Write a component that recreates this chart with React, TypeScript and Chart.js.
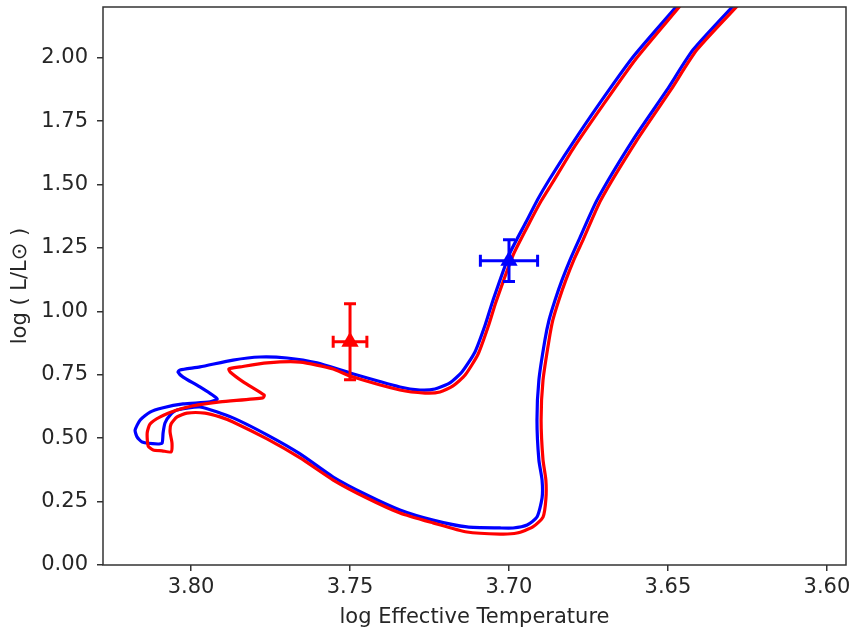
import React, { useEffect, useRef } from "react";
import { Chart, registerables } from "chart.js";

Chart.register(...registerables);

// ---- Data ----
const BLUE_TEFF = [
  3.6283, 3.6421, 3.6503, 3.661, 3.6723, 3.678, 3.6808, 3.6833, 3.6855, 3.6874,
  3.6887, 3.6906, 3.6912, 3.6906, 3.6896, 3.6896, 3.6912, 3.6943, 3.6987, 3.7028,
  3.7132, 3.7239, 3.7343, 3.7447, 3.7553, 3.7657, 3.7761, 3.7868, 3.7972, 3.8044,
  3.8066, 3.8082, 3.8088, 3.8091, 3.8104, 3.8154, 3.817, 3.8176, 3.816, 3.8129,
  3.8091, 3.8025, 3.794, 3.7918, 3.7972, 3.8025, 3.8041, 3.8035, 3.7972, 3.7868,
  3.7783, 3.7698, 3.7604, 3.75, 3.7343, 3.728, 3.7233, 3.7186, 3.7148, 3.7107,
  3.7075, 3.705, 3.6997, 3.6943, 3.6909, 3.6874, 3.6808, 3.6714, 3.661, 3.6472,
  3.6459,
];
const BLUE_LOGL = [
  2.22, 2.031, 1.873, 1.676, 1.439, 1.282, 1.203, 1.124, 1.045, 0.966,
  0.887, 0.729, 0.572, 0.414, 0.335, 0.264, 0.189, 0.158, 0.146, 0.146,
  0.15, 0.177, 0.217, 0.276, 0.347, 0.438, 0.513, 0.58, 0.623, 0.611,
  0.591, 0.56, 0.521, 0.481, 0.477, 0.485, 0.505, 0.532, 0.572, 0.603,
  0.619, 0.635, 0.643, 0.655, 0.702, 0.741, 0.761, 0.769, 0.781, 0.808,
  0.82, 0.816, 0.797, 0.757, 0.702, 0.69, 0.694, 0.718, 0.761, 0.84,
  0.946, 1.045, 1.23, 1.36, 1.443, 1.518, 1.648, 1.822, 2.003, 2.204,
  2.224,
];
const RED_TEFF = [
  3.627, 3.6409, 3.6491, 3.6597, 3.6711, 3.6767, 3.6796, 3.6821, 3.6843, 3.6862,
  3.6874, 3.6893, 3.6899, 3.6893, 3.6884, 3.6884, 3.6893, 3.6925, 3.6975, 3.7028,
  3.7132, 3.7239, 3.7343, 3.7447, 3.7553, 3.7657, 3.7761, 3.7868, 3.7909, 3.7956,
  3.8013, 3.8044, 3.8063, 3.8066, 3.806, 3.8063, 3.8091, 3.8119, 3.8135, 3.8138,
  3.8129, 3.8097, 3.8044, 3.7997, 3.7909, 3.7774, 3.777, 3.7836, 3.7877, 3.7881,
  3.7846, 3.7761, 3.7657, 3.7553, 3.75, 3.7343, 3.7264, 3.7217, 3.7176, 3.7138,
  3.7097, 3.7066, 3.7041, 3.6987, 3.6934, 3.6899, 3.6862, 3.6799, 3.6704, 3.6601,
  3.6462, 3.645,
];
const RED_LOGL = [
  2.22, 2.031, 1.873, 1.676, 1.439, 1.282, 1.203, 1.124, 1.045, 0.966,
  0.887, 0.729, 0.572, 0.414, 0.335, 0.26, 0.189, 0.15, 0.126, 0.122,
  0.13, 0.166, 0.205, 0.264, 0.335, 0.422, 0.497, 0.564, 0.584, 0.599,
  0.599, 0.584, 0.556, 0.524, 0.481, 0.446, 0.45, 0.453, 0.469, 0.521,
  0.556, 0.584, 0.611, 0.627, 0.643, 0.659, 0.67, 0.722, 0.761, 0.773,
  0.781, 0.797, 0.8, 0.773, 0.745, 0.69, 0.678, 0.682, 0.706, 0.749,
  0.832, 0.938, 1.037, 1.222, 1.353, 1.435, 1.51, 1.64, 1.814, 1.995,
  2.204, 2.224,
];

// observed stars (red, blue)
const OBS_TEFF = [3.75, 3.7];
const OBS_LOGL = [0.88, 1.2];
const OBS_TEFF_ERR = [0.0053, 0.009];
const OBS_LOGL_ERR = [0.15, 0.082];

const X_TICKS = [3.8, 3.75, 3.7, 3.65, 3.6];
const Y_TICKS = [0, 0.25, 0.5, 0.75, 1.0, 1.25, 1.5, 1.75, 2.0];
const X_MIN = 3.594;
const X_MAX = 3.8277;
const Y_MIN = 0;
const Y_MAX = 2.2;

// ---- Styles ----
const BLUE = "#0000ff";
const RED = "#ff0000";
const OBS_COLORS = [RED, BLUE];
const AXIS_COLOR = "#333333";
const TEXT_COLOR = "#262626";
const FONT = "'DejaVu Sans', sans-serif";
const FONT_SIZE = 21;

const toPoints = (xs: number[], ys: number[]) => xs.map((x, i) => ({ x, y: ys[i] }));

const frameAndErrorBars = {
  id: "frameAndErrorBars",
  afterDatasetsDraw(chart: any) {
    const { ctx, chartArea, scales } = chart;
    const xs = scales.x;
    const ys = scales.y;
    ctx.save();
    ctx.lineWidth = 3;
    const cap = 6;
    for (let i = 0; i < OBS_TEFF.length; i++) {
      ctx.strokeStyle = OBS_COLORS[i];
      const cx = xs.getPixelForValue(OBS_TEFF[i]);
      const cy = ys.getPixelForValue(OBS_LOGL[i]);
      const x1 = xs.getPixelForValue(OBS_TEFF[i] + OBS_TEFF_ERR[i]);
      const x2 = xs.getPixelForValue(OBS_TEFF[i] - OBS_TEFF_ERR[i]);
      const y1 = ys.getPixelForValue(OBS_LOGL[i] + OBS_LOGL_ERR[i]);
      const y2 = ys.getPixelForValue(OBS_LOGL[i] - OBS_LOGL_ERR[i]);
      ctx.beginPath();
      ctx.moveTo(x1, cy); ctx.lineTo(x2, cy);
      ctx.moveTo(cx, y1); ctx.lineTo(cx, y2);
      ctx.moveTo(x1, cy - cap); ctx.lineTo(x1, cy + cap);
      ctx.moveTo(x2, cy - cap); ctx.lineTo(x2, cy + cap);
      ctx.moveTo(cx - cap, y1); ctx.lineTo(cx + cap, y1);
      ctx.moveTo(cx - cap, y2); ctx.lineTo(cx + cap, y2);
      ctx.stroke();
    }
    ctx.strokeStyle = AXIS_COLOR;
    ctx.lineWidth = 1.5;
    ctx.strokeRect(chartArea.left, chartArea.top, chartArea.right - chartArea.left, chartArea.bottom - chartArea.top);
    ctx.restore();
  },
};

export default function App() {
  const canvasRef = useRef<HTMLCanvasElement | null>(null);

  useEffect(() => {
    if (!canvasRef.current) return;
    const chart = new Chart(canvasRef.current, {
      type: "scatter",
      data: {
        datasets: [
          {
            label: "obs",
            data: toPoints(OBS_TEFF, OBS_LOGL),
            pointStyle: "triangle",
            pointRadius: 10,
            pointBackgroundColor: OBS_COLORS,
            pointBorderColor: OBS_COLORS,
            pointBorderWidth: 0,
            showLine: false,
            order: 0,
          },
          {
            label: "red track",
            data: toPoints(RED_TEFF, RED_LOGL),
            showLine: true,
            borderColor: RED,
            borderWidth: 3.2,
            pointRadius: 0,
            tension: 0.2,
            clip: 0,
            order: 1,
          },
          {
            label: "blue track",
            data: toPoints(BLUE_TEFF, BLUE_LOGL),
            showLine: true,
            borderColor: BLUE,
            borderWidth: 3.2,
            pointRadius: 0,
            tension: 0.2,
            clip: 0,
            order: 2,
          },
        ],
      },
      options: {
        animation: false,
        responsive: false,
        layout: { autoPadding: false, padding: { left: 0, top: 7, right: 5, bottom: 0 } },
        plugins: { legend: { display: false }, tooltip: { enabled: false } },
        scales: {
          x: {
            type: "linear",
            reverse: true,
            min: X_MIN,
            max: X_MAX,
            afterBuildTicks: (s: any) => {
              s.ticks = X_TICKS.map((v) => ({ value: v }));
            },
            afterFit: (s: any) => {
              s.height = 66;
              s.paddingLeft = 0;
              s.paddingRight = 0;
            },
            grid: {
              display: true,
              drawOnChartArea: false,
              drawTicks: true,
              tickLength: 6,
              color: AXIS_COLOR,
              lineWidth: 1.5,
            },
            border: { display: false },
            ticks: {
              color: TEXT_COLOR,
              font: { family: FONT, size: FONT_SIZE },
              padding: 4,
              maxRotation: 0,
              callback: (v: any) => Number(v).toFixed(2),
            },
            title: {
              display: true,
              text: "log Effective Temperature",
              color: TEXT_COLOR,
              font: { family: FONT, size: FONT_SIZE },
              padding: { top: 0, bottom: 1 },
            },
          },
          y: {
            type: "linear",
            min: Y_MIN,
            max: Y_MAX,
            afterBuildTicks: (s: any) => {
              s.ticks = Y_TICKS.map((v) => ({ value: v }));
            },
            afterFit: (s: any) => {
              s.width = 103;
              s.paddingTop = 0;
              s.paddingBottom = 0;
            },
            grid: {
              display: true,
              drawOnChartArea: false,
              drawTicks: true,
              tickLength: 6,
              color: AXIS_COLOR,
              lineWidth: 1.5,
            },
            border: { display: false },
            ticks: {
              color: TEXT_COLOR,
              font: { family: FONT, size: FONT_SIZE },
              padding: 9,
              callback: (v: any) => Number(v).toFixed(2),
            },
            title: {
              display: true,
              text: "log ( L/L\u2299 )",
              color: TEXT_COLOR,
              font: { family: FONT, size: FONT_SIZE },
              padding: { top: 8, bottom: 0 },
            },
          },
        },
      },
      plugins: [frameAndErrorBars],
    });
    return () => chart.destroy();
  }, []);

  return (
    <div style={{ position: "fixed", left: 0, top: 0, width: 851, height: 631, background: "#fff" }}>
      <canvas ref={canvasRef} width={851} height={631} style={{ display: "block" }} />
    </div>
  );
}
